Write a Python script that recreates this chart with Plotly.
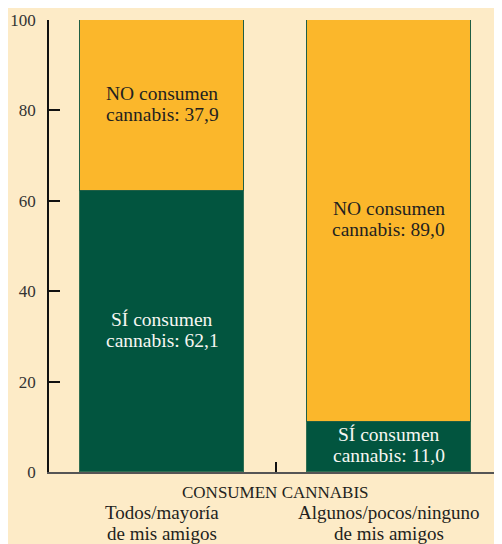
import plotly.graph_objects as go

categories = ["Todos/mayoría<br>de mis amigos", "Algunos/pocos/ninguno<br>de mis amigos"]
cat_line1 = ["Todos/mayoría", "Algunos/pocos/ninguno"]
cat_line2 = ["de mis amigos", "de mis amigos"]
si_values = [62.1, 11.0]
no_values = [37.9, 89.0]
si_label = "SÍ consumen"
no_label = "NO consumen"
axis_title = "CONSUMEN CANNABIS"
y_ticks = [0, 20, 40, 60, 80, 100]

BG = "#fdebc7"
GREEN = "#02553f"
ORANGE = "#fbb72b"
FONT = "Liberation Serif"

xs = [0, 1]

fig = go.Figure()
fig.add_trace(go.Bar(x=xs, y=si_values, marker=dict(color=GREEN, line=dict(color="#2f6e52", width=1)),
                     width=0.724, showlegend=False, hoverinfo="skip"))
fig.add_trace(go.Bar(x=xs, y=no_values, marker=dict(color=ORANGE, line=dict(color="#1f5e45", width=1)),
                     width=0.724, showlegend=False, hoverinfo="skip"))

def fmt(v):
    return f"{v:.1f}".replace(".", ",")

ann = []
for i, x in enumerate(xs):
    si_c = si_values[i] / 2
    no_c = si_values[i] + no_values[i] / 2
    for center, lab, val, col in [(si_c, si_label, si_values[i], "#f7f7f2"),
                                   (no_c, no_label, no_values[i], "#231f20")]:
        ann.append(dict(x=x, y=center, xref="x", yref="y", text=lab, showarrow=False,
                        yanchor="middle", yshift=12.5, font=dict(family=FONT, size=19.5, color=col)))
        ann.append(dict(x=x, y=center, xref="x", yref="y", text=f"cannabis: {fmt(val)}", showarrow=False,
                        yanchor="middle", yshift=-8.5, font=dict(family=FONT, size=19.5, color=col)))
    ann.append(dict(x=x, y=0, xref="x", yref="paper", text=cat_line1[i], showarrow=False,
                    yanchor="middle", yshift=-40.6, font=dict(family=FONT, size=19, color="#231f20")))
    ann.append(dict(x=x, y=0, xref="x", yref="paper", text=cat_line2[i], showarrow=False,
                    yanchor="middle", yshift=-61.6, font=dict(family=FONT, size=19, color="#231f20")))
ann.append(dict(x=0.5, y=0, xref="x", yref="paper", text=axis_title, showarrow=False,
                yanchor="middle", yshift=-20, font=dict(family=FONT, size=17, color="#231f20")))

fig.update_layout(
    width=494, height=536,
    margin=dict(l=41, r=0, t=12, b=72),
    paper_bgcolor=BG, plot_bgcolor=BG,
    barmode="stack", bargap=0,
    annotations=ann,
    xaxis=dict(range=[-0.5, 1.5], tickvals=[0.5], ticktext=[""], ticks="inside", ticklen=10,
               tickwidth=1.5, tickcolor="#111", showline=True, linecolor="#555", linewidth=1.5,
               showgrid=False, zeroline=False, showticklabels=False, fixedrange=True),
    yaxis=dict(range=[0, 100], tickvals=y_ticks, ticks="inside", ticklen=11, tickwidth=1.5,
               tickcolor="#111", showline=True, linecolor="#111", linewidth=1.5,
               showgrid=False, zeroline=False, ticklabelstandoff=8,
               tickfont=dict(family=FONT, size=17, color="#333")),
)

fig.write_html("out.html")
